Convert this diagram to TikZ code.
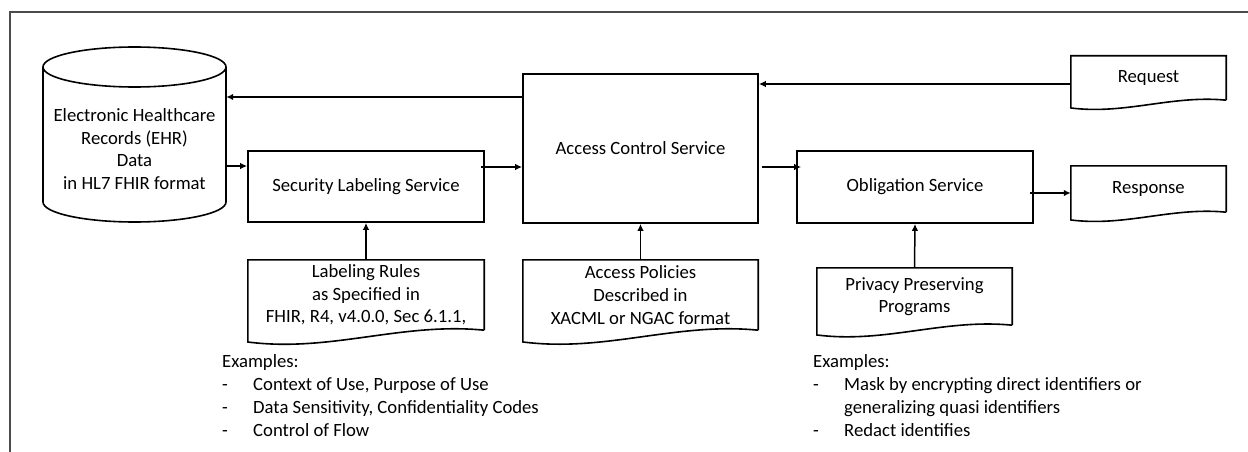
\documentclass[tikz,border=0pt]{standalone}
\usepackage{fontspec}
\setmainfont{Carlito}
\usetikzlibrary{arrows.meta,calc}
\newcommand{\wavedoc}[2]{%
  \draw[boxline] (#1.south east) -- (#1.north east) -- (#1.north west) --
    ($(#1.south west)+(0,0.05*#2)$) .. controls +(0.35*#2,0.045*#2) and +(-0.35*#2,-0.035*#2) .. (#1.south east);}
\begin{document}
\begin{tikzpicture}[x=1pt,y=-1pt,
  font=\fontsize{18.7}{22.6}\selectfont,
  boxline/.style={line width=1.6pt,black},
  box/.style={draw,line width=1.6pt,inner sep=0pt,align=center},
  doc/.style={inner sep=0pt,align=center},
  arr/.style={line width=1.5pt,-{Latex[length=7pt,width=6.5pt]}},
  frame/.style={line width=1.2pt,black!70},
  examples/.style={anchor=north west,align=left,inner sep=0pt,font=\fontsize{18.7}{23}\selectfont}]
\useasboundingbox (0,0) rectangle (1248,452);
% frame
\draw[frame] (1248,12) -- (10,12) -- (10,452);
% EHR cylinder
\node[inner sep=0pt,minimum width=183pt,minimum height=175pt] (ehr) at (134.5,134.5) {};
\draw[boxline] (43,67) -- (43,202) arc[start angle=180,end angle=360,x radius=91.5pt,y radius=20pt] -- (226,67);
\draw[boxline] (134.5,67) ellipse [x radius=91.5pt,y radius=20pt];
\node[align=center,inner sep=0pt] (ehrtext) at (134.5,149) {Electronic Healthcare\\Records (EHR)\\Data\\in HL7 FHIR format};
% boxes
\node[box,minimum width=236pt,minimum height=71pt] (sls) at (366,186.5) {Security Labeling Service};
\node[box,minimum width=235pt,minimum height=149pt] (acs) at (640.5,148.5) {Access Control Service};
\node[box,minimum width=236pt,minimum height=72pt] (obl) at (915,187) {Obligation Service};
% documents
\node[doc,minimum width=155pt,minimum height=44pt] (req) at (1148.5,78) {Request};
\wavedoc{req}{155}
\node[doc,minimum width=155pt,minimum height=46pt] (resp) at (1148.5,189) {Response};
\wavedoc{resp}{155}
\node[doc,minimum width=236pt,minimum height=70pt] (lab) at (366,295) {Labeling Rules\\as Specified in\\FHIR, R4, v4.0.0, Sec 6.1.1,};
\wavedoc{lab}{236}
\node[doc,minimum width=235pt,minimum height=70pt] (pol) at (640.5,295) {Access Policies\\Described in\\XACML or NGAC format};
\wavedoc{pol}{235}
\node[doc,minimum width=195pt,minimum height=57pt] (priv) at (914.5,296.5) {Privacy Preserving\\Programs};
\wavedoc{priv}{195}
% arrows
\draw[arr] (acs.west |- 0,97) -- (ehr.east |- 0,97);
\draw[arr] (req.west |- 0,84) -- (acs.east |- 0,84);
\draw[arr] (ehr.east |- 0,166) -- (sls.west |- 0,166);
\draw[arr] ([xshift=-4pt]sls.east |- 0,167) -- (acs.west |- 0,167);
\draw[arr] ([xshift=3pt]acs.east |- 0,167) -- ([xshift=5pt]obl.west |- 0,167);
\draw[arr] ([xshift=-4pt]obl.east |- 0,193) -- (resp.west |- 0,193);
\draw[arr] (lab.north) -- (sls.south);
\draw[arr] (pol.north) -- (acs.south);
\draw[arr] (priv.north) -- (obl.south);
% examples
\node[examples] (ex1) at (222,354) {Examples:\\\makebox[31pt][l]{-}Context of Use, Purpose of Use\\\makebox[31pt][l]{-}Data Sensitivity, Confidentiality Codes\\\makebox[31pt][l]{-}Control of Flow};
\node[examples] (ex2) at (813,354) {Examples:\\\makebox[31pt][l]{-}Mask by encrypting direct identifiers or\\\hspace*{31pt}generalizing quasi identifiers\\\makebox[31pt][l]{-}Redact identifies};
\end{tikzpicture}
\end{document}
